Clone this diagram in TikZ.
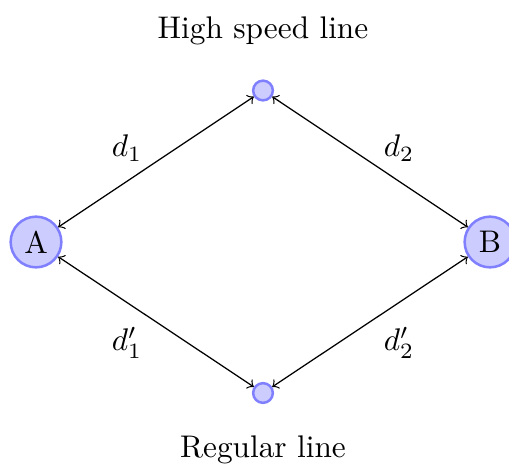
\documentclass[tikz,border=0pt]{standalone}
\begin{document}
\begin{tikzpicture}[x=0.3195pt,y=-0.3195pt,
  bignode/.style={circle,draw=blue!50,fill=blue!20,thick,inner sep=0pt,minimum size=16.2pt},
  smallnode/.style={circle,draw=blue!50,fill=blue!20,thick,inner sep=0pt,minimum size=6.3pt},
  link/.style={<->}]
\useasboundingbox (0,0) rectangle (509,466);
\node[bignode] (A) at (36,242) {A};
\node[bignode] (B) at (490,242) {B};
\node[smallnode] (T) at (263,90.5) {};
\node[smallnode] (D) at (263,393) {};
\draw[link] (A) -- (T);
\draw[link] (T) -- (B);
\draw[link] (A) -- (D);
\draw[link] (D) -- (B);
\node (l1) at (127,148) {$d_1$};
\node (l2) at (399,148) {$d_2$};
\node (l3) at (127,343) {$d'_1$};
\node (l4) at (399,343) {$d'_2$};
\node (top) at (263,31) {High speed line};
\node (bot) at (263,450) {Regular line};
\end{tikzpicture}
\end{document}
